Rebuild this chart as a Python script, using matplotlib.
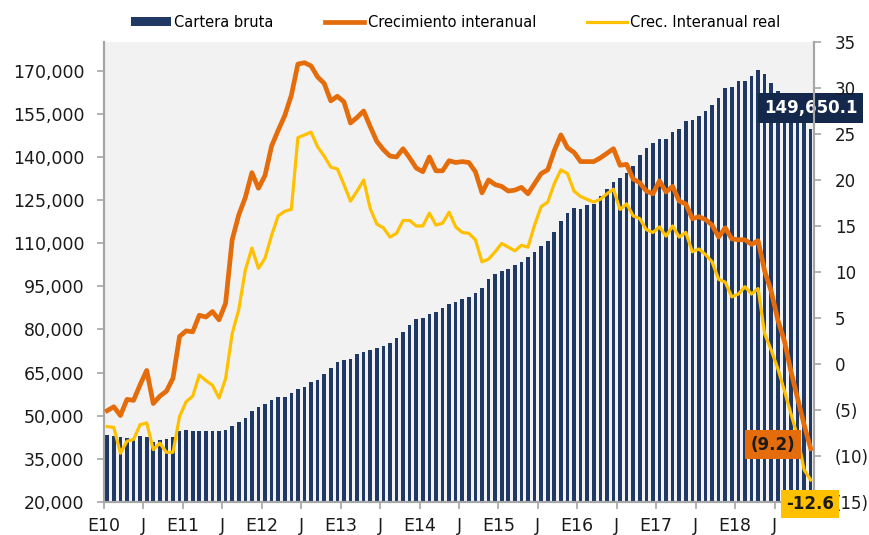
import matplotlib
matplotlib.use("Agg")
import matplotlib.pyplot as plt
from matplotlib.ticker import FuncFormatter
import numpy as np

# monthly series, Jan 2010 .. Dec 2018
cartera_bruta = [
    43.3, 42.9, 42.7, 42.2, 42.0, 42.8, 42.7, 40.9, 41.6, 41.9, 42.7, 44.7,
    45.2, 44.7, 44.7, 44.7, 44.7, 44.7, 45.1, 46.6, 47.9, 49.3, 51.8, 53.2,
    54.0, 55.5, 56.4, 56.4, 57.8, 59.2, 60.1, 61.6, 62.5, 64.4, 66.6, 68.6,
    69.4, 69.8, 71.4, 72.3, 72.9, 73.7, 74.3, 75.2, 77.0, 79.3, 81.6, 83.6,
    84.1, 85.3, 86.2, 87.4, 88.8, 89.5, 90.6, 91.4, 92.8, 94.4, 97.5, 99.3,
    100.4, 101.2, 102.6, 103.6, 105.2, 106.9, 109.2, 110.7, 113.9, 117.7, 120.5, 122.3,
    121.9, 123.4, 123.5, 126.6, 128.9, 131.3, 132.6, 134.6, 136.9, 140.8, 143.1, 144.8,
    146.3, 146.3, 148.6, 149.7, 152.6, 152.9, 154.3, 156.1, 158.0, 160.5, 164.0, 164.5,
    166.4, 166.4, 168.2, 170.2, 168.8, 165.7, 162.8, 160.0, 157.0, 154.5, 152.0, 149.6501,
]
crec_interanual = [
    -5.07, -4.65, -5.6, -3.85, -3.95, -2.25, -0.7, -4.3, -3.5, -2.95, -1.55, 3.0,
    3.6, 3.5, 5.3, 5.1, 5.7, 4.8, 6.6, 13.5, 16.2, 18.1, 20.8, 19.1,
    20.5, 23.7, 25.4, 27.0, 29.2, 32.6, 32.75, 32.4, 31.2, 30.5, 28.6, 29.1,
    28.5, 26.2, 26.8, 27.5, 25.8, 24.2, 23.3, 22.6, 22.5, 23.4, 22.4, 21.3,
    20.9, 22.5, 21.0, 21.0, 22.1, 21.9, 22.0, 21.9, 20.9, 18.6, 20.0, 19.5,
    19.3, 18.8, 18.9, 19.2, 18.5, 19.6, 20.7, 21.1, 23.2, 24.9, 23.5, 23.0,
    22.0, 22.0, 22.0, 22.4, 22.9, 23.4, 21.6, 21.7, 20.1, 19.7, 18.8, 18.5,
    19.9, 18.7, 19.3, 17.7, 17.4, 15.8, 16.0, 15.7, 15.1, 13.8, 14.8, 13.6,
    13.5, 13.5, 13.0, 13.4, 10.1, 7.9, 4.8, 2.5, -0.8, -3.7, -6.6, -9.2,
]
crec_real = [
    -6.8, -6.9, -9.7, -8.4, -8.2, -6.6, -6.4, -9.3, -8.6, -9.6, -9.6, -5.7,
    -4.1, -3.5, -1.2, -1.8, -2.3, -3.7, -1.6, 3.3, 5.9, 10.2, 12.6, 10.4,
    11.5, 14.0, 16.1, 16.6, 16.8, 24.6, 24.9, 25.2, 23.6, 22.6, 21.4, 21.2,
    19.5, 17.7, 18.8, 20.0, 16.9, 15.2, 14.8, 13.8, 14.2, 15.6, 15.6, 15.0,
    15.0, 16.4, 15.1, 15.3, 16.5, 14.9, 14.3, 14.2, 13.5, 11.1, 11.4, 12.2,
    13.1, 12.7, 12.3, 12.9, 12.7, 15.1, 17.1, 17.6, 19.6, 21.1, 20.7, 18.8,
    18.2, 17.9, 17.6, 17.9, 18.5, 19.0, 16.8, 17.4, 16.1, 15.8, 14.6, 14.3,
    14.9, 13.9, 15.0, 13.8, 14.3, 12.2, 12.5, 11.9, 11.1, 9.2, 8.9, 7.3,
    7.6, 8.4, 7.6, 8.2, 3.3, 1.5, -0.5, -2.9, -5.4, -7.9, -11.5, -12.6,
]
tick_labels = ["E10", "J", "E11", "J", "E12", "J", "E13", "J", "E14", "J",
               "E15", "J", "E16", "J", "E17", "J", "E18", "J"]

NAVY = "#1F3864"
ORANGE = "#E46C0A"
YELLOW = "#FFC000"
GRAY = "#A6A6A6"
TXT = "#1a1a1a"

bars = np.array(cartera_bruta) * 1000
x = np.arange(len(bars))

fig = plt.figure(figsize=(8.7, 5.35), dpi=100)
ax = fig.add_axes([0.1195, 0.0617, 0.8161, 0.8598])
ax.set_facecolor("#F2F2F2")
ax.bar(x, bars, width=0.55, color=NAVY, label="Cartera bruta", zorder=2)
ax.set_xlim(-0.5, len(x) - 0.5)
ax.set_ylim(20000, 180000)
ax.set_yticks(np.arange(20000, 170001, 15000))
ax.yaxis.set_major_formatter(FuncFormatter(lambda v, p: f"{v:,.0f}"))

ax2 = ax.twinx()
ax2.plot(x, crec_interanual, color=ORANGE, lw=3.4, label="Crecimiento interanual",
         solid_joinstyle="round", zorder=3)
ax2.plot(x, crec_real, color=YELLOW, lw=2.3, label="Crec. Interanual real",
         solid_joinstyle="round", zorder=3)
ax2.set_ylim(-15, 35)
ax2.set_yticks(np.arange(-15, 36, 5))
ax2.yaxis.set_major_formatter(
    FuncFormatter(lambda v, p: f"({abs(v):.0f})" if v < 0 else f"{v:.0f}"))

ax.set_xticks(np.arange(-0.5, len(x) - 1, 6))
ax.set_xticklabels(tick_labels)

for a in (ax, ax2):
    a.spines["top"].set_visible(False)
    for s in ("left", "right", "bottom"):
        a.spines[s].set_color(GRAY)
        a.spines[s].set_linewidth(1.5)
    a.tick_params(colors=GRAY, labelcolor=TXT, labelsize=12.5, length=5, width=1.2)
ax.tick_params(axis="x", pad=6)
ax.tick_params(axis="y", pad=9)
ax2.tick_params(axis="y", pad=10, labelsize=12)

# value labels at the last month
ax.annotate(f"{cartera_bruta[-1] * 1000:,.1f}", xy=(x[-1], bars[-1]),
            xytext=(0, 21), textcoords="offset pixels", ha="center", va="center",
            fontsize=12, fontweight="bold", color="white", zorder=10,
            bbox=dict(boxstyle="square,pad=0.35", fc="#14284B", ec="none"),
            annotation_clip=False)
ax2.annotate(f"({abs(crec_interanual[-1]):.1f})", xy=(x[-1], crec_interanual[-1]),
             xytext=(-38, 4), textcoords="offset pixels", ha="center", va="center",
             fontsize=12, fontweight="bold", color=TXT, zorder=10,
             bbox=dict(boxstyle="square,pad=0.35", fc=ORANGE, ec="none"),
             annotation_clip=False)
ax2.annotate(f"{crec_real[-1]:.1f}", xy=(x[-1], crec_real[-1]),
             xytext=(-1, -24), textcoords="offset pixels", ha="center", va="center",
             fontsize=12, fontweight="bold", color=TXT, zorder=10,
             bbox=dict(boxstyle="square,pad=0.3", fc=YELLOW, ec="none"),
             annotation_clip=False)

h1, l1 = ax.get_legend_handles_labels()
h2, l2 = ax2.get_legend_handles_labels()
fig.legend(h1 + h2, l1 + l2, loc="center", bbox_to_anchor=(0.524, 0.958), ncol=3,
           frameon=False, fontsize=10.5, handlelength=2.7, handletextpad=0.25,
           columnspacing=3.5, handleheight=0.6)

fig.savefig("out.png", dpi=100)
